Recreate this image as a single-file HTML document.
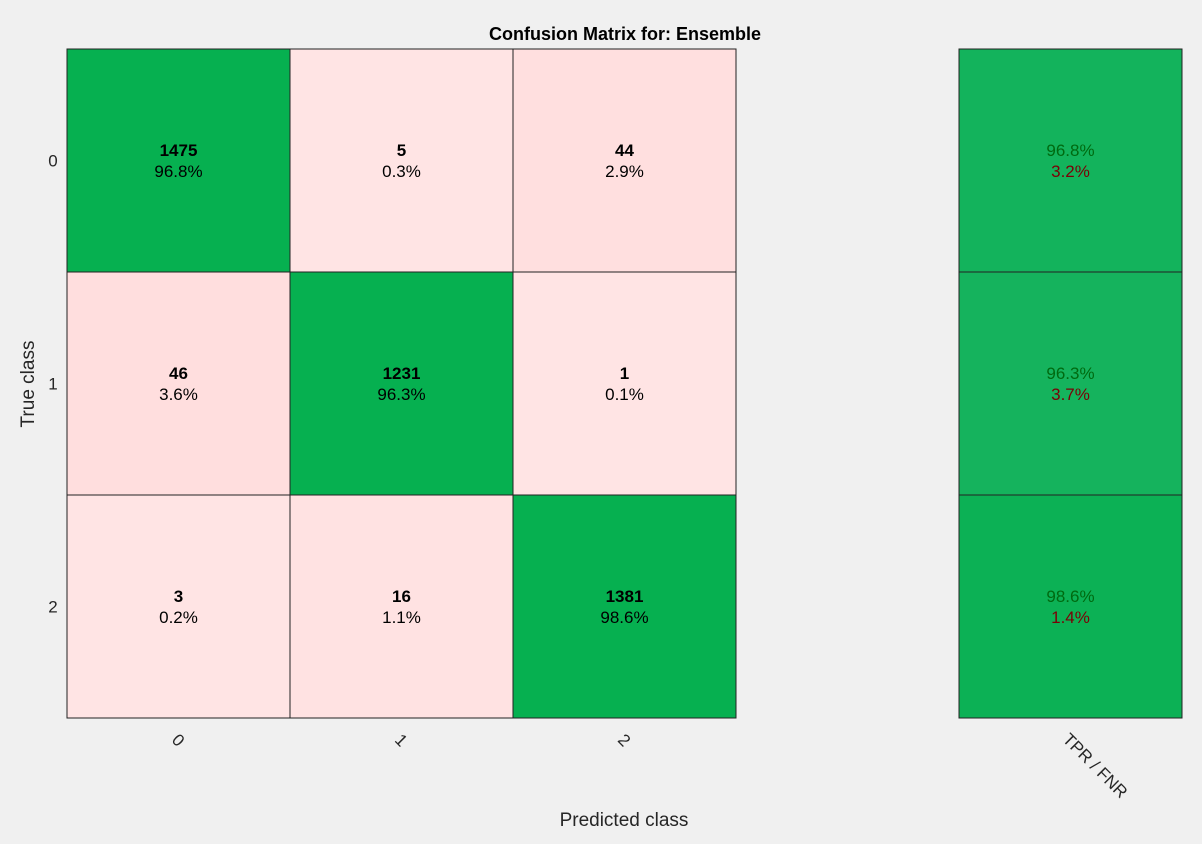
<!DOCTYPE html>
<html><head><meta charset="utf-8"><style>
body{margin:0;background:#f0f0f0;}
svg{display:block;font-family:"Liberation Sans",sans-serif;}
</style></head><body>
<svg id="c" width="1202" height="844"></svg>
<script>
const classes=["0","1","2"];
const counts=[[1475,5,44],[46,1231,1],[3,16,1381]];
const rowPct=[[96.8,0.3,2.9],[3.6,96.3,0.1],[0.2,1.1,98.6]];
const tpr=[96.8,96.3,98.6];
const fnr=[3.2,3.7,1.4];
const NS="http://www.w3.org/2000/svg";
const svg=document.getElementById('c');
const X0=67,Y0=49,CW=223,CH=223,RX=959;
function mk(t,a,p){const e=document.createElementNS(NS,t);for(const k in a)e.setAttribute(k,a[k]);(p||svg).appendChild(e);return e;}
function offColor(p){const s=Math.min(p/5,1);const g=Math.round(228-8*s),b=Math.round(228-8*s);return `rgb(255,${g},${b})`;}
function diagColor(p){const s=(100-p)/5;return `rgb(${Math.round(6+20*s)},${Math.round(176+4*s)},${Math.round(80+18*s)})`;}
for(let i=0;i<3;i++)for(let j=0;j<3;j++){
  const x=X0+j*CW,y=Y0+i*CH;
  const r=mk('rect',{x:x,y:y,width:CW,height:CH,fill:i===j?'rgb(6,176,80)':offColor(rowPct[i][j]),stroke:'#222','stroke-width':1});
  
  
  const t1=mk('text',{x:x+CW/2,y:y+107,'text-anchor':'middle','font-size':17,'font-weight':'bold',fill:'#000'});t1.textContent=counts[i][j];
  
  
  const t2=mk('text',{x:x+CW/2,y:y+128,'text-anchor':'middle','font-size':17,fill:'#000'});t2.textContent=rowPct[i][j].toFixed(1)+'%';
  
  
}
for(let i=0;i<3;i++){
  const y=Y0+i*CH;
  const r=mk('rect',{x:RX,y:y,width:CW,height:CH,fill:diagColor(tpr[i]),stroke:'#222','stroke-width':1});
  
  
  const a=mk('text',{x:RX+CW/2,y:y+107,'text-anchor':'middle','font-size':17,fill:'#006a10'});a.textContent=tpr[i].toFixed(1)+'%';
  
  
  const b=mk('text',{x:RX+CW/2,y:y+128,'text-anchor':'middle','font-size':17,fill:'#7a0006'});b.textContent=fnr[i].toFixed(1)+'%';
  
  
  const yl=mk('text',{x:53,y:y+CH/2+6,'text-anchor':'middle','font-size':17,fill:'#262626'});yl.textContent=classes[i];
  
  
  const cx=X0+i*CW+CW/2;
  const xl=mk('text',{x:cx,y:746,'text-anchor':'middle','font-size':17,fill:'#262626',transform:`rotate(45 ${cx} 740)`});xl.textContent=classes[i];
  
  
}
const tf=mk('text',{x:1066,y:742,'font-size':17,fill:'#262626',transform:'rotate(45 1066 736)'});tf.textContent='TPR / FNR';


const ti=mk('text',{x:625,y:40,'text-anchor':'middle','font-size':18,'font-weight':'bold',fill:'#000'});ti.textContent='Confusion Matrix for: Ensemble';


const xt=mk('text',{x:624,y:826,'text-anchor':'middle','font-size':19,fill:'#262626'});xt.textContent='Predicted class';


const yt=mk('text',{x:34,y:384,'text-anchor':'middle','font-size':19,fill:'#262626',transform:'rotate(-90 34 384)'});yt.textContent='True class';


</script>
</body></html>
